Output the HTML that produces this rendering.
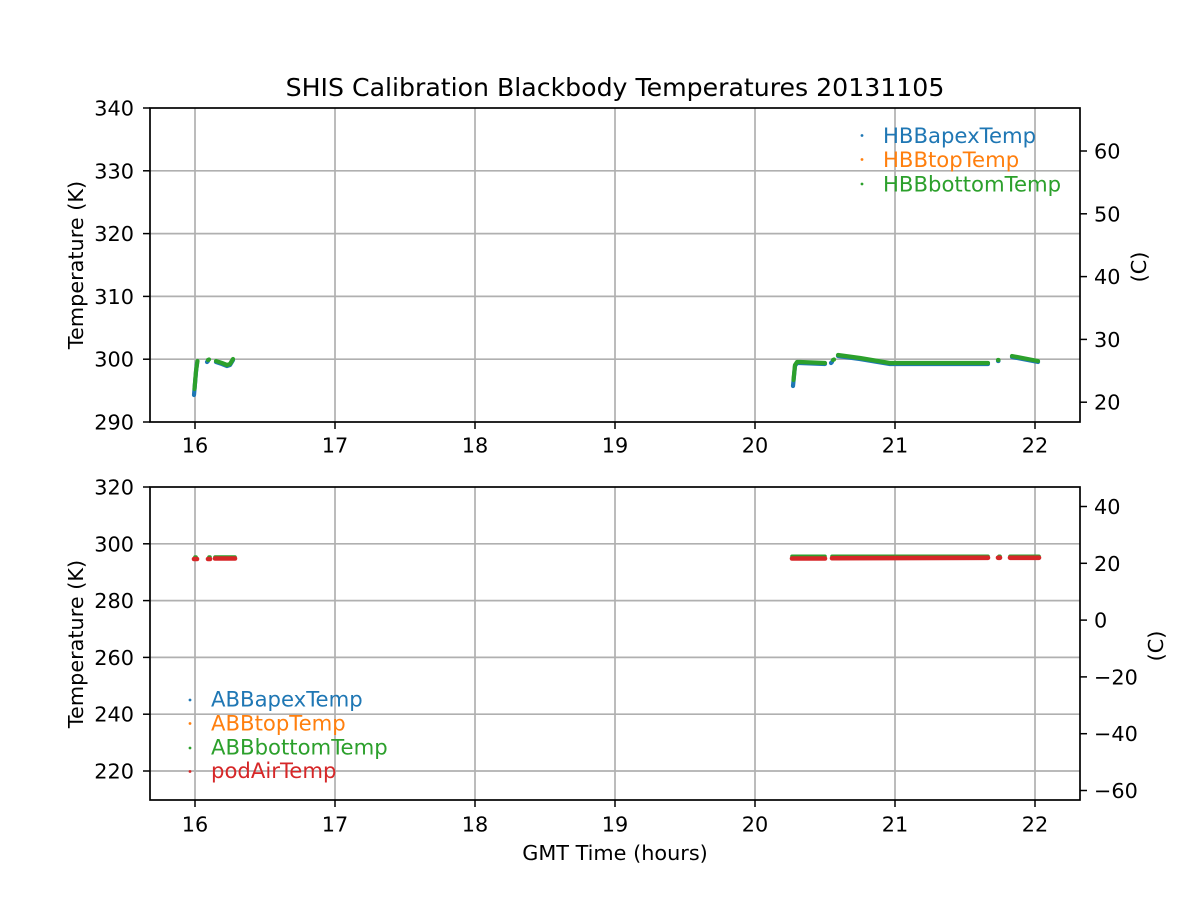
<!DOCTYPE html>
<html><head><meta charset="utf-8"><style>
html,body{margin:0;padding:0;background:#fff;}
svg{display:block;}
text{font-family:"DejaVu Sans","Liberation Sans",sans-serif;font-size:20.8px;fill:#000;}
text.lg{font-size:21.2px;}
</style></head><body>
<svg width="1200" height="900" viewBox="0 0 1200 900" xmlns="http://www.w3.org/2000/svg">
<rect width="1200" height="900" fill="#fff"/>
<text x="615" y="96" text-anchor="middle" style="font-size:25.2px">SHIS Calibration Blackbody Temperatures 20131105</text>

<!-- TOP AXES -->
<g stroke="#b0b0b0" stroke-width="1.7" fill="none">
  <line x1="195" y1="108" x2="195" y2="422"/><line x1="335" y1="108" x2="335" y2="422"/>
  <line x1="475" y1="108" x2="475" y2="422"/><line x1="615" y1="108" x2="615" y2="422"/>
  <line x1="755" y1="108" x2="755" y2="422"/><line x1="895" y1="108" x2="895" y2="422"/>
  <line x1="1035" y1="108" x2="1035" y2="422"/>
  <line x1="150" y1="359.2" x2="1080" y2="359.2"/><line x1="150" y1="296.4" x2="1080" y2="296.4"/>
  <line x1="150" y1="233.6" x2="1080" y2="233.6"/><line x1="150" y1="170.8" x2="1080" y2="170.8"/>
</g>
<!-- top data -->
<g fill="none" stroke-linecap="round" stroke-linejoin="round" stroke-width="4.2">
  <g stroke="#1f77b4">
    <polyline points="194,395 196,372 197,363"/>
    <polyline points="207,362 208,361"/>
    <polyline points="216,362 222,364 227,366 230,365 233,360"/>
    <polyline points="793,386 795,366 797,363 800,363 825,364"/>
    <polyline points="831,363 832,362"/>
    <polyline points="838,356 860,359 890,364 988,364"/>
    <polyline points="998,361 998.5,361"/>
    <polyline points="1012,357 1038,362"/>
  </g>
  <g stroke="#2ca02c">
    <polyline points="194.5,389 196,371 197.5,361"/>
    <polyline points="208,360 209,359.5"/>
    <polyline points="216,361 222,363 227,365 230,364 233,359"/>
    <polyline points="793.5,380 795,365 797,362 800,362 825,363"/>
    <polyline points="833,360 834,359.5"/>
    <polyline points="838,355 860,358 890,363 988,363"/>
    <polyline points="998,360 998.5,360"/>
    <polyline points="1012,356 1038,361"/>
  </g>
</g>
<rect x="150" y="108" width="930" height="314" fill="none" stroke="#000" stroke-width="1.7"/>
<g stroke="#000" stroke-width="1.5">
  <line x1="195" y1="422" x2="195" y2="429"/><line x1="335" y1="422" x2="335" y2="429"/>
  <line x1="475" y1="422" x2="475" y2="429"/><line x1="615" y1="422" x2="615" y2="429"/>
  <line x1="755" y1="422" x2="755" y2="429"/><line x1="895" y1="422" x2="895" y2="429"/>
  <line x1="1035" y1="422" x2="1035" y2="429"/>
  <line x1="143" y1="422" x2="150" y2="422"/><line x1="143" y1="359.2" x2="150" y2="359.2"/>
  <line x1="143" y1="296.4" x2="150" y2="296.4"/><line x1="143" y1="233.6" x2="150" y2="233.6"/>
  <line x1="143" y1="170.8" x2="150" y2="170.8"/><line x1="143" y1="108" x2="150" y2="108"/>
  <line x1="1080" y1="402.2" x2="1087" y2="402.2"/><line x1="1080" y1="339.4" x2="1087" y2="339.4"/>
  <line x1="1080" y1="276.6" x2="1087" y2="276.6"/><line x1="1080" y1="213.8" x2="1087" y2="213.8"/>
  <line x1="1080" y1="151" x2="1087" y2="151"/>
</g>
<g text-anchor="middle">
  <text x="195" y="452.5">16</text><text x="335" y="452.5">17</text><text x="475" y="452.5">18</text>
  <text x="615" y="452.5">19</text><text x="755" y="452.5">20</text><text x="895" y="452.5">21</text>
  <text x="1035" y="452.5">22</text>
</g>
<g text-anchor="end">
  <text x="134" y="429.5">290</text><text x="134" y="366.7">300</text><text x="134" y="303.9">310</text>
  <text x="134" y="241.1">320</text><text x="134" y="178.3">330</text><text x="134" y="115.5">340</text>
</g>
<g text-anchor="start">
  <text x="1094" y="409.7">20</text><text x="1094" y="346.9">30</text><text x="1094" y="284.1">40</text>
  <text x="1094" y="221.3">50</text><text x="1094" y="158.5">60</text>
</g>
<text transform="translate(83,265) rotate(-90)" text-anchor="middle">Temperature (K)</text>
<text transform="translate(1146,267) rotate(-90)" text-anchor="middle">(C)</text>
<!-- top legend -->
<circle cx="862" cy="135.5" r="1.4" fill="#1f77b4"/>
<circle cx="862" cy="159.5" r="1.4" fill="#ff7f0e"/>
<circle cx="862" cy="184" r="1.4" fill="#2ca02c"/>
<text class="lg" x="883" y="143" style="fill:#1f77b4">HBBapexTemp</text>
<text class="lg" x="883" y="167" style="fill:#ff7f0e">HBBtopTemp</text>
<text class="lg" x="883" y="191.5" style="fill:#2ca02c">HBBbottomTemp</text>

<!-- BOTTOM AXES -->
<g stroke="#b0b0b0" stroke-width="1.7" fill="none">
  <line x1="195" y1="487" x2="195" y2="800"/><line x1="335" y1="487" x2="335" y2="800"/>
  <line x1="475" y1="487" x2="475" y2="800"/><line x1="615" y1="487" x2="615" y2="800"/>
  <line x1="755" y1="487" x2="755" y2="800"/><line x1="895" y1="487" x2="895" y2="800"/>
  <line x1="1035" y1="487" x2="1035" y2="800"/>
  <line x1="150" y1="543.8" x2="1080" y2="543.8"/><line x1="150" y1="600.6" x2="1080" y2="600.6"/>
  <line x1="150" y1="657.4" x2="1080" y2="657.4"/><line x1="150" y1="714.2" x2="1080" y2="714.2"/>
  <line x1="150" y1="771" x2="1080" y2="771"/>
</g>
<g fill="none" stroke-linecap="round">
  <g stroke="#2ca02c" stroke-width="3.6">
    <polyline points="195,557 196,557"/><polyline points="209,557 210,557"/>
    <polyline points="215,557 235,557"/>
    <polyline points="792,556.3 825,556.3"/><polyline points="832,556.3 988,556.3"/>
    <polyline points="999,556.3 1000,556.3"/><polyline points="1010,556.3 1039,556.3"/>
  </g>
  <g stroke="#d62728" stroke-width="4.6">
    <polyline points="194,559 197,559"/><polyline points="208,559 210,559"/>
    <polyline points="215,558.5 235,558.5"/>
    <polyline points="792,558.5 825,558.5"/><polyline points="832,558.2 988,557.8"/>
    <polyline points="998,557.8 1000,557.8"/><polyline points="1010,557.8 1039,557.8"/>
  </g>
</g>
<rect x="150" y="487" width="930" height="313" fill="none" stroke="#000" stroke-width="1.7"/>
<g stroke="#000" stroke-width="1.5">
  <line x1="195" y1="800" x2="195" y2="807"/><line x1="335" y1="800" x2="335" y2="807"/>
  <line x1="475" y1="800" x2="475" y2="807"/><line x1="615" y1="800" x2="615" y2="807"/>
  <line x1="755" y1="800" x2="755" y2="807"/><line x1="895" y1="800" x2="895" y2="807"/>
  <line x1="1035" y1="800" x2="1035" y2="807"/>
  <line x1="143" y1="487" x2="150" y2="487"/><line x1="143" y1="543.8" x2="150" y2="543.8"/>
  <line x1="143" y1="600.6" x2="150" y2="600.6"/><line x1="143" y1="657.4" x2="150" y2="657.4"/>
  <line x1="143" y1="714.2" x2="150" y2="714.2"/><line x1="143" y1="771" x2="150" y2="771"/>
  <line x1="1080" y1="506.5" x2="1087" y2="506.5"/><line x1="1080" y1="563.3" x2="1087" y2="563.3"/>
  <line x1="1080" y1="620.1" x2="1087" y2="620.1"/><line x1="1080" y1="676.9" x2="1087" y2="676.9"/>
  <line x1="1080" y1="733.7" x2="1087" y2="733.7"/><line x1="1080" y1="790.5" x2="1087" y2="790.5"/>
</g>
<g text-anchor="middle">
  <text x="195" y="831.5">16</text><text x="335" y="831.5">17</text><text x="475" y="831.5">18</text>
  <text x="615" y="831.5">19</text><text x="755" y="831.5">20</text><text x="895" y="831.5">21</text>
  <text x="1035" y="831.5">22</text>
</g>
<g text-anchor="end">
  <text x="134" y="494.5">320</text><text x="134" y="551.3">300</text><text x="134" y="608.1">280</text>
  <text x="134" y="664.9">260</text><text x="134" y="721.7">240</text><text x="134" y="778.5">220</text>
</g>
<g text-anchor="start">
  <text x="1094" y="514">40</text><text x="1094" y="570.8">20</text><text x="1094" y="627.6">0</text>
  <text x="1094" y="684.4">−20</text><text x="1094" y="741.2">−40</text><text x="1094" y="798">−60</text>
</g>
<text transform="translate(83,644) rotate(-90)" text-anchor="middle">Temperature (K)</text>
<text transform="translate(1163,646) rotate(-90)" text-anchor="middle">(C)</text>
<text x="615" y="860" text-anchor="middle">GMT Time (hours)</text>
<!-- bottom legend -->
<circle cx="190" cy="700" r="1.4" fill="#1f77b4"/>
<circle cx="190" cy="723.5" r="1.4" fill="#ff7f0e"/>
<circle cx="190" cy="748" r="1.4" fill="#2ca02c"/>
<circle cx="190" cy="771.5" r="1.4" fill="#d62728"/>
<text class="lg" x="211" y="706.5" style="fill:#1f77b4">ABBapexTemp</text>
<text class="lg" x="211" y="730.5" style="fill:#ff7f0e">ABBtopTemp</text>
<text class="lg" x="211" y="754.5" style="fill:#2ca02c">ABBbottomTemp</text>
<text class="lg" x="211" y="778" style="fill:#d62728">podAirTemp</text>
</svg>
</body></html>
